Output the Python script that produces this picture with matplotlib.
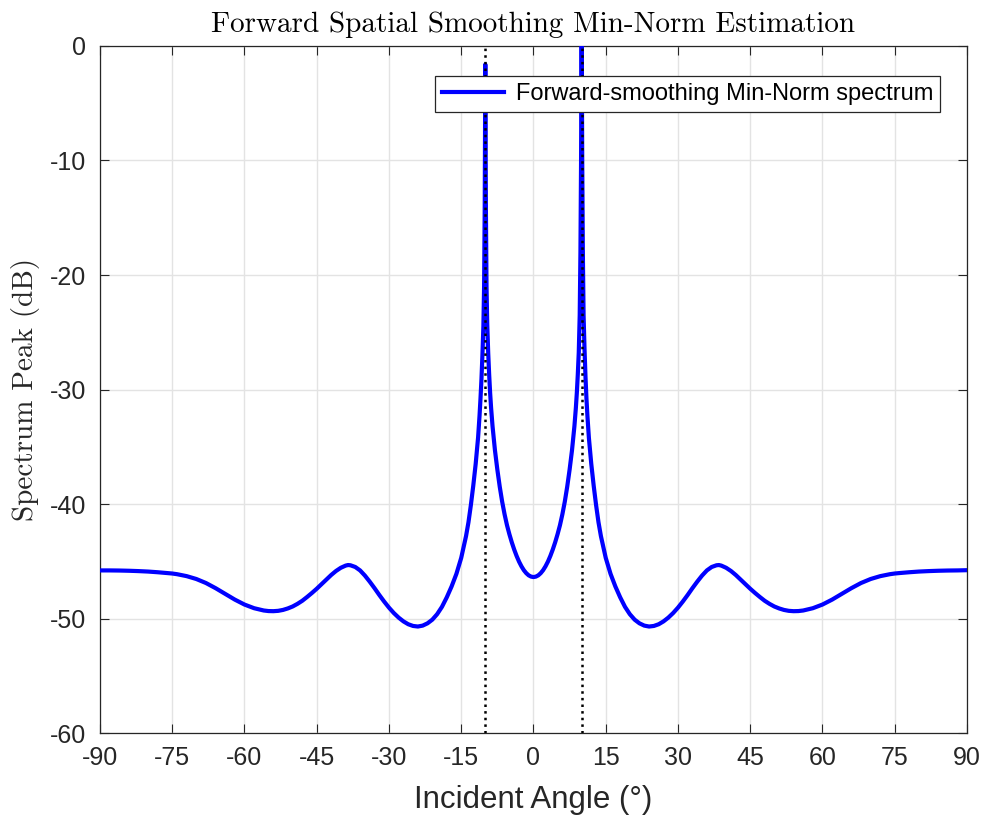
import numpy as np
import matplotlib
matplotlib.use("Agg")
import matplotlib.pyplot as plt

plt.rcParams["font.family"] = ["Liberation Sans", "DejaVu Sans"]
plt.rcParams["axes.unicode_minus"] = False

# Min-Norm spectrum (angle in degrees, level in dB)
# rows of ten values each, so the two lists line up
angle_deg = [
    -90, -88, -86, -84, -82, -80, -78, -76, -75, -74,
    -72, -70, -68, -66, -64, -62, -60, -58, -56, -55,
    -54, -53, -52, -51, -50, -49, -48, -47, -46, -45,
    -44, -43, -42, -41, -40, -39, -38.5, -38, -37, -36,
    -35, -34, -33, -32, -31, -30, -29, -28, -27, -26,
    -25, -24, -23, -22, -21, -20, -19, -18, -17, -16,
    -15, -14, -13.5, -13, -12.5, -12, -11.5, -11.2, -11, -10.8,
    -10.6, -10.4, -10.25, -10.12, -10.05, -10, -9.95, -9.88, -9.75, -9.6,
    -9.4, -9.2, -9, -8.8, -8.5, -8, -7.5, -7, -6.5, -6,
    -5.5, -5, -4.5, -4, -3.5, -3, -2.5, -2, -1.5, -1,
    -0.5, 0, 0.5, 1, 1.5, 2, 2.5, 3, 3.5, 4,
    4.5, 5, 5.5, 6, 6.5, 7, 7.5, 8, 8.5, 8.8,
    9, 9.2, 9.4, 9.6, 9.75, 9.88, 9.95, 10, 10.05, 10.12,
    10.25, 10.4, 10.6, 10.8, 11, 11.2, 11.5, 12, 12.5, 13,
    13.5, 14, 15, 16, 17, 18, 19, 20, 21, 22,
    23, 24, 25, 26, 27, 28, 29, 30, 31, 32,
    33, 34, 35, 36, 37, 38, 38.5, 39, 40, 41,
    42, 43, 44, 45, 46, 47, 48, 49, 50, 51,
    52, 53, 54, 55, 56, 58, 60, 62, 64, 66,
    68, 70, 72, 74, 75, 76, 78, 80, 82, 84,
    86, 88, 90,
]
spectrum_db = [
    -45.80, -45.80, -45.81, -45.83, -45.86, -45.90, -45.96, -46.03, -46.07, -46.13,
    -46.30, -46.55, -46.90, -47.35, -47.85, -48.35, -48.78, -49.10, -49.30, -49.35,
    -49.36, -49.33, -49.25, -49.12, -48.95, -48.72, -48.45, -48.12, -47.77, -47.40,
    -47.00, -46.60, -46.20, -45.85, -45.57, -45.38, -45.33, -45.35, -45.50, -45.80,
    -46.25, -46.78, -47.35, -47.95, -48.52, -49.05, -49.52, -49.92, -50.25, -50.50,
    -50.65, -50.70, -50.62, -50.42, -50.10, -49.62, -48.98, -48.15, -47.20, -46.10,
    -44.70, -42.80, -41.60, -40.10, -38.40, -36.50, -34.20, -32.30, -30.80, -29.10,
    -27.00, -24.50, -21.00, -14.00, -7.00, -1.60, -7.00, -14.00, -21.00, -24.30,
    -26.80, -28.70, -30.30, -31.60, -33.20, -35.30, -37.00, -38.50, -39.80, -40.90,
    -41.85, -42.64, -43.35, -43.98, -44.54, -45.03, -45.44, -45.78, -46.04, -46.23,
    -46.34, -46.38, -46.34, -46.23, -46.04, -45.78, -45.44, -45.03, -44.54, -43.98,
    -43.35, -42.64, -41.85, -40.90, -39.80, -38.50, -37.00, -35.30, -33.20, -31.60,
    -30.30, -28.70, -26.80, -23.50, -18.00, -10.00, -4.00, 2.00, -4.00, -10.00,
    -18.00, -23.50, -26.50, -28.90, -30.80, -32.30, -34.20, -36.50, -38.40, -40.10,
    -41.60, -42.80, -44.70, -46.10, -47.20, -48.15, -48.98, -49.62, -50.10, -50.42,
    -50.62, -50.70, -50.65, -50.50, -50.25, -49.92, -49.52, -49.05, -48.52, -47.95,
    -47.35, -46.78, -46.25, -45.80, -45.50, -45.35, -45.33, -45.38, -45.57, -45.85,
    -46.20, -46.60, -47.00, -47.40, -47.77, -48.12, -48.45, -48.72, -48.95, -49.12,
    -49.25, -49.33, -49.36, -49.35, -49.30, -49.10, -48.78, -48.35, -47.85, -47.35,
    -46.90, -46.55, -46.30, -46.13, -46.07, -46.03, -45.96, -45.90, -45.86, -45.83,
    -45.81, -45.80, -45.78,
]
true_doa = [-10, 10]

x_ticks = list(range(-90, 91, 15))
y_ticks = list(range(-60, 1, 10))

TICK_C = "#262626"
GRID_C = "#e3e3e3"

fig = plt.figure(figsize=(9.84, 8.17), dpi=100)
ax = fig.add_axes([0.1016, 0.1028, 0.8811, 0.8409])

ax.plot(angle_deg, spectrum_db, color="#0000ff", linewidth=3.0,
        label="Forward-smoothing Min-Norm spectrum", zorder=3,
        solid_joinstyle="round")
for d in true_doa:
    ax.plot([d, d], [-60, 0], color="black", linestyle=":", linewidth=1.8,
            zorder=4)

ax.set_xlim(-90, 90)
ax.set_ylim(-60, 0)
ax.set_xticks(x_ticks)
ax.set_yticks(y_ticks)
ax.grid(True, color=GRID_C, linewidth=1.0, zorder=0)
ax.set_axisbelow(True)
ax.tick_params(direction="in", length=6.5, width=0.8, colors=TICK_C,
               labelsize=18, top=True, right=True)
ax.tick_params(axis="x", pad=9)
ax.tick_params(axis="y", pad=10)
for s in ax.spines.values():
    s.set_color(TICK_C)
    s.set_linewidth(0.9)

ax.set_xlabel("Incident Angle (\u00b0)", fontsize=22.5, color=TICK_C,
              labelpad=11)
ax.set_ylabel("Spectrum Peak (dB)", fontsize=21, family="cmr10",
              color=TICK_C, labelpad=7)
ax.set_title("Forward Spatial Smoothing Min-Norm Estimation", fontsize=21,
             family="cmr10", pad=10)

leg = ax.legend(loc="upper right", bbox_to_anchor=(0.9689, 0.9563),
                borderaxespad=0, fontsize=17, fancybox=False, framealpha=1,
                handlelength=2.6, borderpad=0.3, handletextpad=0.5)
leg.get_frame().set_edgecolor(TICK_C)
leg.get_frame().set_linewidth(0.9)

fig.savefig("out.png", dpi=100)
